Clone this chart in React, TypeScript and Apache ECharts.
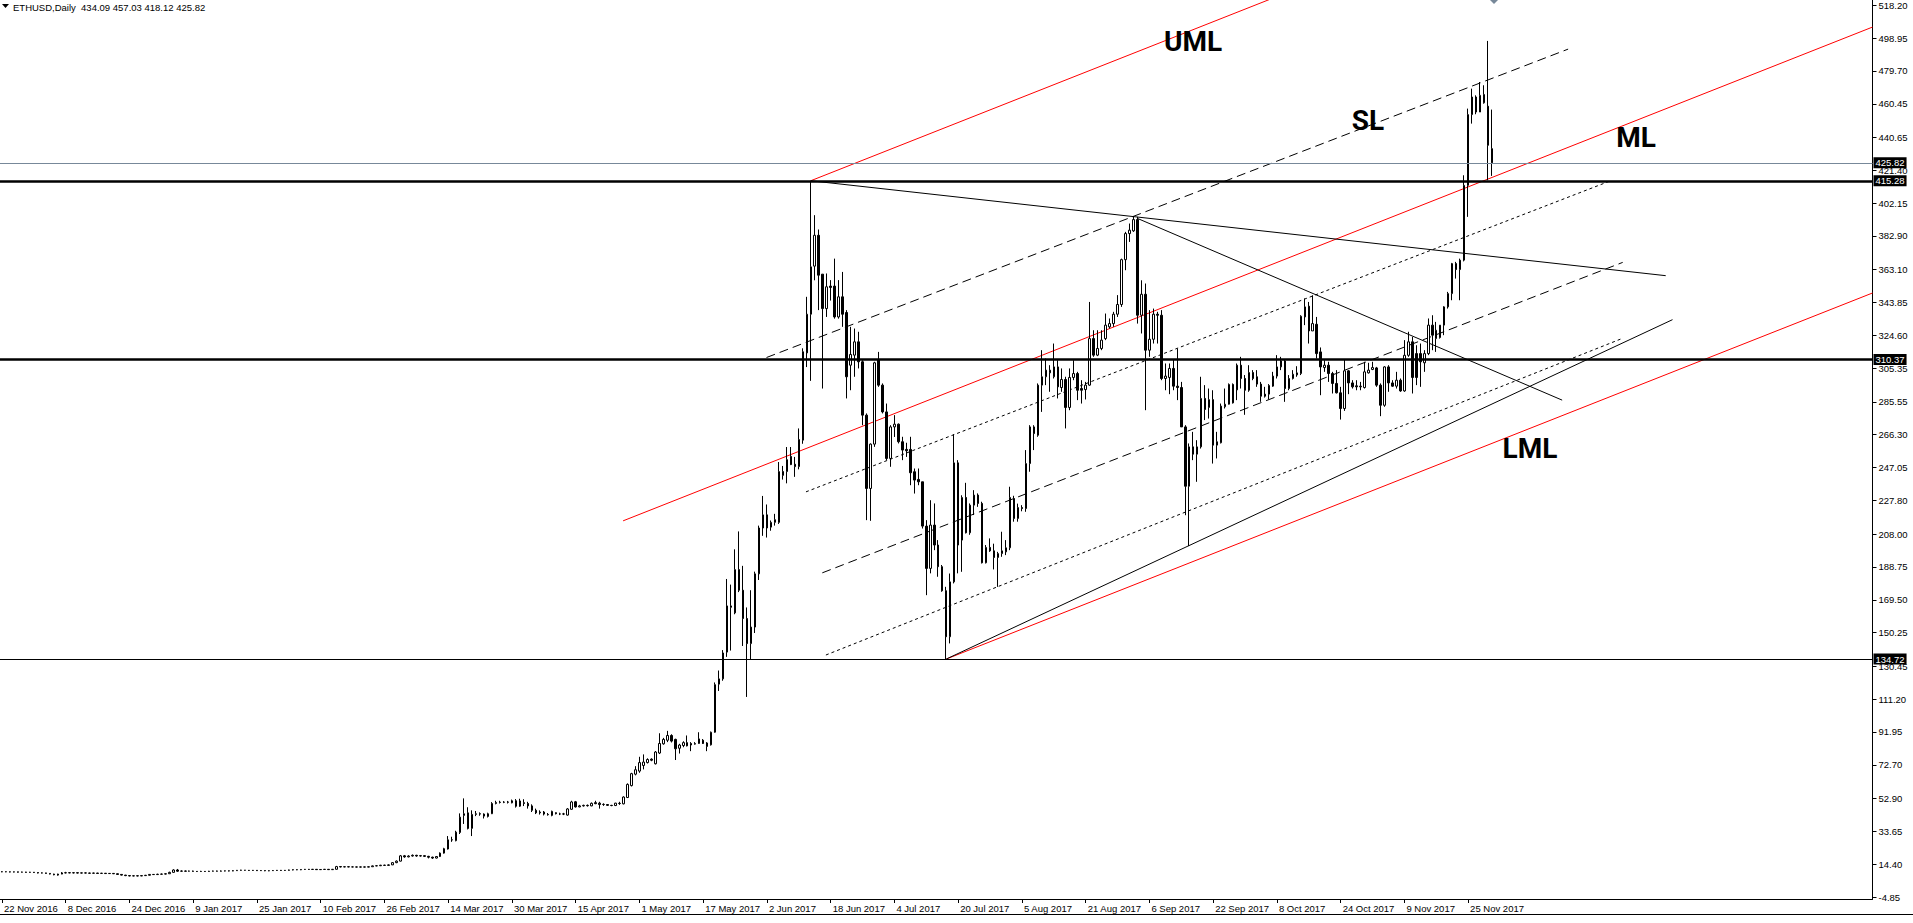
import React, { useEffect, useRef } from "react";
import * as echarts from "echarts";

// ---------- data ----------
const SYMBOL = "ETHUSD,Daily";
const START = { year: 2016, month: 10, day: 22 }; // 22 Nov 2016 (first bar)
const CATEGORY_COUNT = 470; // bars + right shift space
const LABEL_STEP = 16;
const MONTHS = ["Jan", "Feb", "Mar", "Apr", "May", "Jun", "Jul", "Aug", "Sep", "Oct", "Nov", "Dec"];

// [open, close, low, high]
const ohlcWinter = [
  [9.9, 10.0, 9.7, 10.3], [10.0, 9.9, 9.7, 10.2], [9.9, 9.8, 9.6, 10.1], [9.8, 9.9, 9.6, 10.1],
  [9.9, 9.7, 9.5, 10.0], [9.7, 9.8, 9.5, 10.0], [9.8, 9.6, 9.4, 9.9], [9.6, 9.7, 9.4, 9.9],
  [9.7, 9.5, 9.3, 9.8], [9.5, 9.2, 9.0, 9.6], [9.2, 9.3, 9.0, 9.6], [9.3, 9.0, 8.8, 9.4],
  [9.0, 8.6, 8.4, 9.1], [8.6, 8.2, 7.9, 8.8], [8.0, 8.6, 7.7, 8.8], [8.6, 9.3, 8.5, 9.8],
  [9.3, 9.4, 9.0, 9.9], [9.4, 9.3, 9.1, 9.7], [9.3, 9.4, 9.0, 9.8], [9.4, 9.2, 9.0, 9.6],
  [9.2, 9.3, 9.0, 9.5], [9.3, 9.2, 9.0, 9.6], [9.2, 9.1, 8.9, 9.4], [9.1, 9.2, 8.9, 9.4],
  [9.2, 9.0, 8.8, 9.3], [9.0, 9.1, 8.8, 9.3], [9.1, 8.9, 8.7, 9.2], [8.9, 9.0, 8.7, 9.2],
  [9.0, 8.8, 8.6, 9.1], [8.8, 8.4, 8.2, 8.9], [8.4, 8.0, 7.8, 8.5], [8.0, 7.7, 7.4, 8.1],
  [7.7, 7.5, 7.3, 7.9], [7.5, 7.6, 7.3, 7.9], [7.6, 7.5, 7.3, 7.8], [7.5, 7.7, 7.4, 7.9],
  [7.7, 7.9, 7.5, 8.1], [7.9, 8.4, 7.8, 8.6], [8.4, 8.3, 8.1, 8.6], [8.3, 8.5, 8.2, 8.8],
  [8.5, 8.6, 8.3, 8.9], [8.6, 8.8, 8.4, 9.1], [8.8, 9.6, 8.7, 10.0], [9.6, 11.0, 9.4, 11.4],
  [11.0, 10.3, 9.9, 11.6], [10.3, 10.4, 10.0, 10.7], [10.4, 10.3, 10.1, 10.6], [10.3, 10.4, 10.1, 10.6],
  [10.4, 10.2, 10.0, 10.6], [10.2, 10.1, 9.9, 10.4], [10.1, 10.2, 9.9, 10.5], [10.2, 10.1, 9.9, 10.4],
  [10.1, 10.3, 10.0, 10.5], [10.3, 10.4, 10.1, 10.6], [10.4, 10.3, 10.1, 10.6], [10.3, 10.4, 10.1, 10.7],
  [10.4, 10.5, 10.2, 10.7], [10.5, 10.4, 10.2, 10.7], [10.4, 10.6, 10.3, 10.9], [10.6, 10.8, 10.5, 11.0],
];

const ohlcSpring = [
  [10.8, 10.9, 10.6, 11.1], [10.9, 10.8, 10.6, 11.0], [10.8, 10.7, 10.5, 11.0], [10.7, 10.8, 10.5, 11.0],
  [10.8, 10.6, 10.4, 10.9], [10.6, 10.7, 10.4, 10.9], [10.7, 10.5, 10.3, 10.8], [10.5, 10.6, 10.3, 10.8],
  [10.6, 10.7, 10.4, 10.9], [10.7, 10.8, 10.5, 11.0], [10.8, 10.7, 10.5, 11.0], [10.7, 10.8, 10.5, 11.0],
  [10.8, 11.0, 10.6, 11.2], [11.0, 11.2, 10.8, 11.4], [11.2, 11.1, 10.9, 11.4], [11.1, 11.3, 10.9, 11.5],
  [11.3, 11.4, 11.1, 11.6], [11.4, 11.3, 11.1, 11.6], [11.3, 11.4, 11.1, 11.6], [11.4, 11.2, 11.0, 11.5],
  [11.2, 11.3, 11.0, 11.5], [11.3, 11.4, 11.1, 11.6], [11.4, 11.2, 11.0, 11.5], [11.2, 11.4, 11.1, 11.6],
  [11.4, 13.0, 11.3, 13.4], [13.0, 12.8, 12.5, 13.3], [12.8, 12.9, 12.6, 13.1], [12.9, 12.8, 12.6, 13.1],
  [12.8, 12.8, 12.6, 13.0], [12.8, 12.7, 12.5, 13.0], [12.7, 12.8, 12.5, 13.0], [12.8, 12.7, 12.5, 13.0],
  [12.7, 12.9, 12.6, 13.1], [12.9, 13.4, 12.8, 13.6], [13.4, 13.5, 13.2, 13.8], [13.5, 13.8, 13.3, 14.0],
  [13.8, 13.7, 13.5, 14.1], [13.7, 14.0, 13.5, 14.3], [14.0, 15.3, 13.9, 15.6], [15.3, 16.2, 15.0, 16.6],
  [16.2, 19.3, 16.0, 19.8], [19.3, 18.7, 18.2, 19.8], [18.7, 19.2, 18.4, 19.6], [19.2, 19.6, 18.9, 20.1],
  [19.6, 19.2, 18.8, 19.9], [19.2, 19.4, 18.9, 19.8], [19.4, 19.0, 18.6, 19.7], [19.0, 18.5, 17.8, 19.3],
  [18.5, 18.0, 17.5, 18.8], [18.0, 18.9, 17.8, 19.2], [18.9, 20.9, 18.6, 21.3], [20.9, 23.5, 20.6, 24.0],
  [23.3, 28.7, 23.0, 30.9], [28.7, 28.6, 27.5, 30.5], [28.2, 33.2, 27.8, 34.0], [33.0, 42.0, 32.1, 44.2],
  [43.0, 44.0, 38.0, 53.0], [44.5, 35.4, 34.8, 47.8], [35.4, 43.6, 30.9, 46.0], [43.6, 44.0, 42.6, 45.6],
  [44.0, 43.8, 42.8, 44.8], [43.8, 42.6, 41.2, 44.2], [42.4, 44.0, 41.8, 44.6], [44.0, 50.0, 43.8, 50.8],
  [50.0, 50.6, 49.5, 51.6], [50.6, 50.8, 50.0, 51.6], [50.8, 50.7, 50.2, 51.4], [50.7, 50.9, 50.0, 51.5],
  [50.4, 51.6, 50.1, 52.3], [51.6, 48.4, 47.6, 52.6], [48.4, 51.5, 48.0, 52.8], [50.5, 50.0, 48.5, 52.5],
  [50.0, 48.6, 47.0, 51.0], [48.6, 46.0, 45.0, 49.5], [46.0, 44.5, 43.8, 47.0], [44.5, 45.0, 43.5, 46.0],
  [45.0, 43.8, 43.0, 45.6],
];

const ohlcSummer = [
  [43.6, 43.4, 42.9, 44.4], [43.0, 45.4, 42.5, 45.8], [44.6, 44.0, 43.6, 44.8], [43.8, 43.9, 43.2, 44.6],
  [43.9, 43.8, 43.2, 44.5], [43.2, 46.8, 42.9, 47.3], [46.6, 50.9, 46.3, 51.6], [51.0, 48.0, 47.6, 51.5],
  [48.0, 48.6, 47.8, 49.2], [48.6, 48.9, 48.2, 49.3], [48.9, 48.7, 48.2, 49.4], [48.6, 50.1, 48.4, 50.6],
  [50.5, 49.9, 49.6, 51.6], [50.2, 49.4, 47.0, 51.0], [49.4, 49.5, 48.6, 50.1], [49.4, 48.9, 48.6, 49.7],
  [48.9, 48.8, 48.4, 49.2], [48.8, 50.2, 48.5, 50.4], [50.1, 50.0, 49.2, 51.0], [49.8, 53.8, 49.5, 54.2],
  [53.5, 61.2, 53.2, 61.8], [60.5, 67.5, 60.0, 68.0], [67.2, 69.8, 66.5, 71.9], [69.0, 74.0, 68.0, 77.4],
  [72.3, 74.3, 70.0, 78.8], [74.0, 75.8, 73.5, 76.5], [76.0, 75.4, 74.8, 76.5], [73.3, 80.2, 72.9, 80.8],
  [79.6, 85.2, 79.0, 91.2], [85.0, 87.6, 84.5, 88.5], [87.1, 89.9, 86.0, 92.6], [89.9, 86.6, 85.8, 90.6],
  [87.6, 82.1, 75.5, 88.0], [82.4, 84.3, 79.3, 85.0], [84.0, 85.7, 83.0, 86.5], [85.7, 83.8, 83.5, 89.9],
  [85.2, 84.3, 80.7, 86.0], [84.8, 85.2, 84.5, 86.0], [85.2, 87.9, 85.0, 91.8], [87.1, 85.2, 84.9, 87.8],
  [85.5, 83.5, 80.7, 86.0], [84.4, 91.8, 84.0, 92.2], [91.8, 119.7, 91.5, 121.0], [120.0, 123.1, 116.0, 128.0],
  [123.1, 138.3, 122.0, 140.0], [138.8, 165.9, 136.0, 181.7], [165.9, 165.1, 139.7, 178.4], [161.8, 187.2, 161.0, 199.1],
  [187.2, 175.1, 174.0, 209.6], [175.1, 158.5, 142.4, 189.4], [158.5, 143.8, 112.5, 165.0], [143.8, 153.5, 134.7, 175.1],
  [153.5, 184.7, 150.0, 186.0], [184.7, 211.6, 181.1, 213.0], [211.6, 219.3, 207.0, 230.4], [219.3, 211.6, 206.0, 225.4],
  [212.1, 214.9, 210.0, 216.0], [214.9, 216.5, 213.0, 219.9], [214.9, 244.7, 214.0, 250.3], [244.7, 242.5, 240.0, 248.0],
  [244.7, 251.7, 237.8, 259.1], [253.6, 248.8, 248.5, 259.1], [249.0, 247.6, 241.6, 253.3], [247.6, 263.5, 246.0, 270.0],
  [263.1, 315.0, 261.0, 317.0], [314.3, 337.0, 306.0, 347.2], [337.0, 364.8, 297.9, 415.28], [365.2, 383.3, 356.9, 395.1],
  [383.3, 359.9, 339.4, 386.7], [360.5, 340.3, 293.4, 360.5], [340.3, 353.1, 335.4, 360.9], [353.5, 352.7, 345.0, 357.0],
  [353.5, 335.4, 334.4, 369.6], [335.4, 347.2, 334.4, 357.0], [347.2, 337.0, 329.6, 361.8], [338.0, 300.3, 287.6, 339.4],
  [307.1, 313.4, 292.4, 329.6], [313.0, 320.8, 300.3, 328.6], [320.8, 309.1, 305.2, 326.7], [309.1, 277.8, 271.9, 310.0],
  [277.8, 234.8, 216.2, 278.8], [234.8, 260.8, 215.8, 261.2], [260.8, 308.5, 259.2, 309.1], [310.4, 295.4, 294.4, 314.9],
  [295.4, 279.7, 278.8, 296.4], [279.7, 252.4, 251.4, 284.6], [252.4, 270.9, 247.5, 271.9], [270.9, 272.5, 265.0, 277.8],
  [272.5, 262.2, 261.2, 272.9], [262.2, 257.3, 251.4, 265.1], [257.7, 256.9, 253.3, 261.6], [257.7, 244.0, 236.7, 265.1],
  [244.6, 239.7, 231.8, 246.5], [240.1, 238.7, 236.7, 246.5], [238.7, 212.7, 211.3, 238.7], [212.7, 187.9, 172.2, 216.2],
  [187.9, 213.3, 185.0, 227.9], [213.3, 201.6, 198.6, 226.0], [201.6, 188.9, 183.0, 204.5], [188.9, 174.8, 174.2, 189.9],
  [174.8, 147.8, 134.72, 177.1], [147.8, 180.0, 143.9, 184.9], [180.0, 249.8, 179.1, 266.6], [249.8, 201.6, 185.0, 251.4],
  [204.5, 229.5, 185.9, 230.8], [229.5, 208.8, 208.4, 238.1], [208.8, 225.0, 207.6, 226.0], [225.0, 230.9, 219.2, 233.8],
  [230.9, 226.0, 224.0, 231.9], [226.0, 191.2, 190.8, 227.0], [191.2, 200.2, 190.8, 201.6], [200.2, 198.2, 197.6, 205.5],
  [198.2, 194.3, 187.3, 202.4], [194.3, 196.6, 177.1, 197.6], [196.6, 198.2, 194.7, 209.4], [197.6, 200.0, 195.7, 204.5],
  [200.0, 229.5, 198.6, 235.8],
];

const ohlcAutumn = [
  [228.9, 217.2, 215.3, 230.5], [217.2, 223.6, 215.3, 225.9], [223.6, 223.0, 221.4, 225.0], [223.0, 249.4, 221.1, 257.3],
  [249.4, 270.9, 244.6, 271.9], [270.9, 267.0, 257.3, 271.9], [266.0, 295.4, 265.1, 296.4], [295.4, 300.3, 279.7, 315.9],
  [300.3, 304.2, 295.4, 311.0], [302.6, 304.2, 291.5, 307.1], [300.3, 306.1, 299.3, 319.8], [306.1, 294.4, 287.6, 310.0],
  [294.0, 298.7, 291.5, 305.2], [298.7, 282.3, 270.0, 300.3], [282.3, 299.9, 280.7, 305.2], [299.9, 302.2, 298.3, 310.0],
  [302.2, 292.4, 286.6, 303.2], [293.4, 292.4, 284.6, 298.3], [292.8, 295.4, 287.0, 297.3], [295.4, 322.7, 295.0, 344.2],
  [322.7, 313.0, 312.0, 327.6], [313.0, 316.9, 312.4, 327.6], [316.9, 321.8, 315.9, 327.6], [322.7, 330.6, 321.8, 337.4],
  [329.6, 331.5, 328.6, 334.5], [331.5, 337.0, 329.6, 338.4], [337.0, 342.7, 335.4, 348.2], [342.7, 369.0, 341.3, 369.6],
  [369.0, 384.3, 362.8, 385.3], [384.3, 386.3, 379.4, 390.2], [385.9, 392.5, 385.3, 394.5], [392.5, 336.4, 331.5, 394.1],
  [336.4, 348.7, 325.7, 356.9], [348.7, 315.9, 280.7, 355.0], [315.9, 322.3, 312.0, 339.4], [322.3, 337.0, 319.8, 340.3],
  [337.0, 336.4, 319.8, 338.4], [336.4, 299.3, 298.3, 339.4], [299.3, 300.7, 292.4, 308.1], [299.9, 305.2, 290.1, 308.1],
  [305.2, 294.8, 292.4, 310.4], [294.8, 294.0, 286.6, 316.9], [294.0, 270.9, 270.9, 297.3], [270.9, 236.1, 219.1, 271.9],
  [236.1, 259.2, 201.0, 261.2], [259.2, 254.9, 251.4, 268.0], [254.9, 259.2, 238.7, 263.1], [259.2, 287.6, 258.2, 300.3],
  [287.6, 281.1, 274.9, 295.4], [282.3, 286.9, 275.8, 293.4], [286.9, 260.2, 249.4, 292.4], [260.2, 262.2, 252.4, 268.0],
  [261.6, 283.1, 261.2, 284.6], [282.7, 284.2, 281.7, 293.4], [284.2, 295.8, 284.0, 296.4], [295.8, 285.0, 284.6, 296.4],
  [292.6, 307.1, 286.6, 308.1], [307.1, 299.3, 293.4, 312.0], [299.3, 292.4, 278.0, 301.3], [292.4, 302.8, 291.5, 307.1],
  [302.8, 299.3, 298.3, 304.2], [300.3, 296.0, 294.4, 304.2], [296.0, 288.9, 285.6, 297.3], [290.1, 288.9, 288.1, 294.4],
  [290.1, 295.2, 287.0, 296.0], [294.8, 300.7, 294.4, 303.2], [300.7, 306.1, 299.3, 313.0], [306.1, 309.6, 304.2, 312.0],
  [309.6, 293.4, 285.6, 310.4], [293.4, 299.3, 292.4, 301.3], [299.3, 301.8, 298.7, 304.2], [301.4, 302.6, 300.3, 306.5],
  [302.2, 335.8, 301.3, 336.4], [335.4, 341.3, 330.6, 346.2], [341.7, 327.2, 319.8, 344.2], [327.2, 331.5, 327.2, 348.1],
  [331.1, 313.9, 311.0, 335.4], [314.9, 306.1, 289.5, 317.5], [305.7, 307.1, 303.2, 310.0], [307.1, 302.2, 297.3, 309.1],
  [302.2, 296.4, 290.5, 303.2], [296.4, 290.9, 290.5, 304.2], [290.9, 281.7, 275.2, 294.4], [281.7, 303.8, 280.3, 310.4],
  [303.8, 296.7, 290.1, 304.2], [296.7, 294.4, 293.4, 298.3], [295.0, 294.4, 292.4, 298.3], [294.8, 294.4, 292.4, 297.3],
  [294.0, 303.2, 293.4, 309.1], [302.6, 304.2, 302.2, 308.5], [304.6, 305.7, 304.2, 309.1], [305.5, 295.4, 294.4, 306.1],
  [295.4, 283.6, 277.2, 296.4], [283.6, 306.1, 282.7, 306.5], [306.1, 296.7, 291.5, 307.1], [296.7, 294.8, 294.4, 298.3],
  [294.8, 298.3, 293.4, 303.2], [298.3, 292.0, 291.5, 299.3], [292.0, 312.9, 291.5, 321.8], [312.9, 320.8, 312.0, 326.7],
  [320.8, 299.9, 290.5, 323.7], [313.9, 299.9, 295.4, 318.8], [313.9, 309.1, 294.4, 319.8], [308.5, 313.9, 303.2, 315.9],
  [313.9, 330.6, 313.0, 334.5], [330.6, 324.7, 315.9, 336.4], [322.7, 327.6, 314.9, 332.5], [323.3, 330.6, 322.7, 330.6],
  [330.6, 341.3, 324.7, 341.7], [341.3, 349.1, 340.3, 350.1], [349.1, 366.7, 345.2, 367.1], [366.7, 363.2, 357.9, 367.7],
  [363.2, 368.7, 345.2, 369.6], [368.7, 412.6, 368.0, 418.5], [412.6, 454.1, 394.1, 457.6], [454.1, 464.4, 448.8, 469.3],
  [464.4, 455.6, 454.3, 465.4], [455.6, 465.4, 455.6, 473.2], [461.0, 465.9, 460.5, 471.3], [459.0, 436.1, 415.6, 497.3],
  [434.09, 425.82, 418.12, 457.03],
];

// price axis labels (as printed)
const yTickLabels = [
  518.2, 498.95, 479.7, 460.45, 440.65, 421.4, 402.15, 382.9, 363.1, 343.85, 324.6, 305.35, 285.55, 266.3,
  247.05, 227.8, 208.0, 188.75, 169.5, 150.25, 130.45, 111.2, 91.95, 72.7, 52.9, 33.65, 14.4, -4.85,
];

// horizontal price levels: current price, resistance, support, July low
const priceLevels = [425.82, 415.28, 310.37, 134.72];

// Andrews pitchfork anchors: [bar index, price]
const pitchP1 = [155.9, 215.8];
const pitchP2 = [203, 415.28];
const pitchP3 = [237, 134.72];

// other drawn lines: pairs of [bar index, price]
const solidLines = [
  [[203, 415.28], [417.6, 359.6]],
  [[285.1, 393.1], [391.6, 286.6]],
  [[237, 134.72], [419.3, 333.8]],
];
const dashLines = [
  [[191.9, 311.6], [393.1, 492.5]],
  [[205.9, 185.3], [406.8, 367.4]],
];
const dotLines = [
  [[201.8, 232.8], [403.8, 415.3]],
  [[206.8, 137.1], [406.8, 322.9]],
];

const annotations = ["UML", "SL", "ML", "LML"];

// ---------- helpers ----------
function dateLabel(i: number) {
  const d = new Date(Date.UTC(START.year, START.month, START.day + i));
  return `${d.getUTCDate()} ${MONTHS[d.getUTCMonth()]} ${d.getUTCFullYear()}`;
}

export default function App() {
  const ref = useRef<HTMLDivElement>(null);

  useEffect(() => {
    if (!ref.current) return;
    const chart = echarts.init(ref.current, null, { renderer: "svg" });

    const candles = [...ohlcWinter, ...ohlcSpring, ...ohlcSummer, ...ohlcAutumn];
    const lastBar = candles.length - 1;
    const categories = Array.from({ length: CATEGORY_COUNT }, (_, i) => dateLabel(i));
    const xEnd = CATEGORY_COUNT - 0.5;

    // pitchfork
    const mid = [(pitchP2[0] + pitchP3[0]) / 2, (pitchP2[1] + pitchP3[1]) / 2];
    const slope = (mid[1] - pitchP1[1]) / (mid[0] - pitchP1[0]);
    const extend = (p: number[]) => [[p[0], p[1]], [xEnd, p[1] + slope * (xEnd - p[0])]];
    const redLines = [extend(pitchP1), extend(pitchP2), extend(pitchP3)];

    const lineSeries = (pts: number[][], color: string, type: any) => ({
      type: "line",
      xAxisIndex: 1,
      yAxisIndex: 0,
      data: pts,
      showSymbol: false,
      symbol: "none",
      silent: true,
      clip: true,
      z: 3,
      lineStyle: { color, width: 1, type },
    });

    const levelStyles = [
      { color: "#778899", width: 1, type: "solid" },
      { color: "#000000", width: 2.5, type: "solid" },
      { color: "#000000", width: 2.5, type: "solid" },
      { color: "#000000", width: 1, type: "solid" },
    ];

    const font = "Liberation Sans, Arial, sans-serif";
    const showLabel = (idx: number) => idx % LABEL_STEP === 0 && idx <= lastBar;
    const last = candles[lastBar];

    const annotationPos = [
      [1193, 41],
      [1368, 120],
      [1636, 137],
      [1530, 448],
    ];

    chart.setOption({
      animation: false,
      backgroundColor: "#ffffff",
      grid: { left: -7.5, top: 0, width: CATEGORY_COUNT * 4, height: 899, containLabel: false },
      xAxis: [
        {
          type: "category",
          data: categories,
          boundaryGap: true,
          axisLine: { onZero: false, lineStyle: { color: "#000", width: 1 } },
          axisTick: {
            show: true,
            alignWithLabel: true,
            interval: (idx: number) => showLabel(idx),
            length: 4,
            lineStyle: { color: "#000" },
          },
          axisLabel: {
            interval: (idx: number) => showLabel(idx),
            align: "left",
            margin: 4,
            color: "#000",
            fontSize: 9.5,
            fontFamily: font,
            padding: [0, 0, 0, 2],
          },
          splitLine: { show: false },
        },
        {
          type: "value",
          min: -0.5,
          max: xEnd,
          show: false,
        },
      ],
      yAxis: {
        type: "value",
        position: "right",
        min: -6.02,
        max: 521.31,
        axisLine: { show: true, onZero: false, lineStyle: { color: "#000", width: 1 } },
        axisTick: { show: true, length: 4, customValues: yTickLabels, lineStyle: { color: "#000" } },
        axisLabel: {
          customValues: yTickLabels,
          formatter: (v: number) => v.toFixed(2),
          margin: 6,
          color: "#000",
          fontSize: 9.5,
          fontFamily: font,
        },
        splitLine: { show: false },
      },
      series: [
        {
          type: "candlestick",
          xAxisIndex: 0,
          yAxisIndex: 0,
          data: candles,
          barWidth: 2,
          silent: true,
          z: 4,
          itemStyle: {
            color: "#ffffff",
            color0: "#000000",
            borderColor: "#000000",
            borderColor0: "#000000",
            borderWidth: 1,
          },
          markLine: {
            silent: true,
            symbol: ["none", "none"],
            animation: false,
            data: priceLevels.map((v, k) => ({
              yAxis: v,
              lineStyle: levelStyles[k],
            })),
            label: {
              show: true,
              position: "end",
              distance: 1,
              formatter: (p: any) => Number(p.value).toFixed(2),
              color: "#fff",
              backgroundColor: "#000",
              padding: [1, 2, 0, 2],
              fontSize: 9.5,
              fontFamily: font,
            },
          },
        },
        ...redLines.map((pts) => lineSeries(pts, "#ff0000", "solid")),
        ...solidLines.map((pts) => lineSeries(pts, "#000000", "solid")),
        ...dashLines.map((pts) => lineSeries(pts, "#000000", [9, 5])),
        ...dotLines.map((pts) => lineSeries(pts, "#000000", [3, 3])),
      ],
      graphic: [
        {
          type: "polygon",
          shape: { points: [[2, 4], [9, 4], [5.5, 8]] },
          style: { fill: "#000" },
        },
        {
          type: "text",
          x: 13,
          y: 7,
          style: {
            text: `${SYMBOL}  ${last[0].toFixed(2)} ${last[3].toFixed(2)} ${last[2].toFixed(2)} ${last[1].toFixed(2)}`,
            font: `9.5px ${font}`,
            fill: "#000",
            textVerticalAlign: "middle",
          },
        },
        {
          type: "polygon",
          shape: { points: [[1490, 0], [1498, 0], [1494, 4]] },
          style: { fill: "#778899" },
        },
        ...annotations.map((t, k) => ({
          type: "text",
          x: annotationPos[k][0],
          y: annotationPos[k][1],
          z: 10,
          style: {
            text: t,
            font: "bold 28px Roboto, Liberation Sans, Arial, sans-serif",
            fill: "#000",
            textAlign: "center",
            textVerticalAlign: "middle",
          },
        })),
        {
          type: "line",
          shape: { x1: 0, y1: 914.5, x2: 1913, y2: 914.5 },
          style: { stroke: "#000", lineWidth: 1 },
        },
      ],
    });

    return () => chart.dispose();
  }, []);

  return (
    <div
      ref={ref}
      style={{ position: "fixed", left: 0, top: 0, width: 1913, height: 923, background: "#fff" }}
    />
  );
}
